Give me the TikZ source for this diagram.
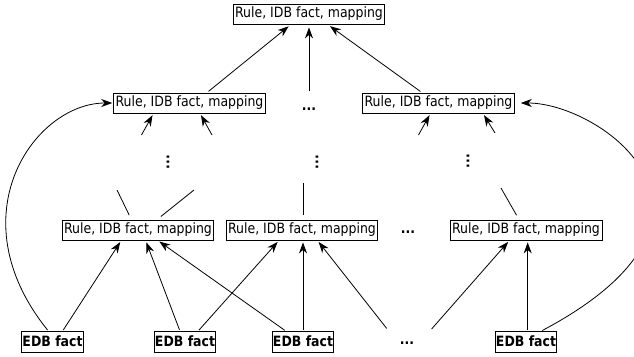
\documentclass[tikz,border=0pt]{standalone}
\usepackage{fontspec}
\setmainfont{DejaVu Sans}[FakeStretch=0.88]
\usepackage{graphicx}
\usetikzlibrary{arrows.meta, positioning, calc}

\begin{document}
\begin{tikzpicture}[x=1pt, y=-1pt, line width=0.8pt, >={Stealth[length=11pt, width=8pt, inset=3.5pt]},
  idb/.style={draw, font=\fontsize{14.2}{16}\selectfont, text height=10.8pt, text depth=3.2pt, inner xsep=2pt, inner ysep=3pt},
  edb/.style={draw, font=\fontsize{14.2}{16}\selectfont\bfseries, text height=10.8pt, text depth=1pt, inner xsep=0.8pt, inner ysep=4.5pt},
  hdots/.style={font=\fontsize{14.2}{16}\selectfont\bfseries, inner sep=1pt}]
  \path[use as bounding box, clip] (0,0) rectangle (634,356);

  \node[idb] (top) at (309,14) {Rule, IDB fact, mapping};
  \node[idb] (m1) at (189.5,103) {Rule, IDB fact, mapping};
  \node[hdots] (mdots) at (309,109) {...};
  \node[idb] (m2) at (438.5,103) {Rule, IDB fact, mapping};

  \node[hdots] (v1) at (168,162) {\rotatebox{90}{...}};
  \node[hdots] (v2) at (317,162) {\rotatebox{90}{...}};
  \node[hdots] (v3) at (468,161) {\rotatebox{90}{...}};

  \node[idb] (b1) at (138,230) {Rule, IDB fact, mapping};
  \node[idb] (b2) at (302,230) {Rule, IDB fact, mapping};
  \node[hdots] (bdots) at (408,232) {...};
  \node[idb] (b3) at (526,230) {Rule, IDB fact, mapping};

  \node[edb] (e1) at (52.5,342) {EDB fact};
  \node[edb] (e2) at (185,342) {EDB fact};
  \node[edb] (e3) at (303,342) {EDB fact};
  \node[hdots] (edots) at (407,343) {...};
  \node[edb] (e4) at (526,342) {EDB fact};

  \coordinate (m1a) at (141.5,135);
  \coordinate (m1b) at (212,135);
  \coordinate (m2a) at (418.5,135);
  \coordinate (m2b) at (495,133);
  \coordinate (b1a) at (117,190);
  \coordinate (b1b) at (194,190);
  \coordinate (b2a) at (303,183);
  \coordinate (b3a) at (501,188);

  \draw[->, shorten <=2pt, shorten >=3pt] ([xshift=17.5pt]m1.north) -- ([xshift=-18pt]top.south);
  \draw[->, shorten <=15pt, shorten >=3pt] (mdots.north) -- (top.south);
  \draw[->, shorten <=2pt, shorten >=3pt] ([xshift=-16.5pt]m2.north) -- ([xshift=18.5pt]top.south);

  \draw[->, shorten >=2pt] (m1a) -- ([xshift=-36pt]m1.south);
  \draw[->, shorten >=2pt] (m1b) -- ([xshift=10.5pt]m1.south);
  \draw[->, shorten >=2pt] (m2a) -- ([xshift=-8pt]m2.south);
  \draw[->, shorten >=2pt] (m2b) -- ([xshift=44.5pt]m2.south);

  \draw[shorten >=5pt] (b1a) -- ([xshift=-6.6pt]b1.north);
  \draw[shorten >=5pt] (b1b) -- ([xshift=19pt]b1.north);
  \draw[shorten >=5pt] (b2a) -- ([xshift=1pt]b2.north);
  \draw[shorten >=5pt] (b3a) -- ([xshift=-7pt]b3.north);

  \draw[->, shorten <=1.5pt, shorten >=2pt] ([xshift=10pt]e1.north) -- ([xshift=-16.7pt]b1.south);
  \draw[->, shorten <=1.5pt, shorten >=2pt] ([xshift=-5pt]e2.north) -- ([xshift=7.6pt]b1.south);
  \draw[->, shorten <=1.5pt, shorten >=2pt] ([xshift=13pt]e2.north) -- ([xshift=-23pt]b2.south);
  \draw[->, shorten <=1.5pt, shorten >=2pt] ([xshift=-17pt]e3.north) -- ([xshift=19.7pt]b1.south);
  \draw[->, shorten <=1.5pt, shorten >=2pt] (e3.north) -- ([xshift=1pt]b2.south);
  \draw[->, shorten <=15pt, shorten >=2pt] ([xshift=-11pt]edots.north) -- ([xshift=15.4pt]b2.south);
  \draw[->, shorten <=15pt, shorten >=2pt] ([xshift=14.7pt]edots.north) -- ([xshift=-16.5pt]b3.south);
  \draw[->, shorten <=1.5pt, shorten >=2pt] ([xshift=1.7pt]e4.north) -- ([xshift=1.7pt]b3.south);

  \draw[->, shorten <=1.5pt, shorten >=1pt] ([xshift=-4pt]e1.north) .. controls (-45,215) and (35,103) .. (m1.west);
  \draw[->, shorten <=1.5pt, shorten >=6pt] ([xshift=15pt]e4.north) .. controls (760,215) and (600,103) .. (m2.east);
\end{tikzpicture}
\end{document}
